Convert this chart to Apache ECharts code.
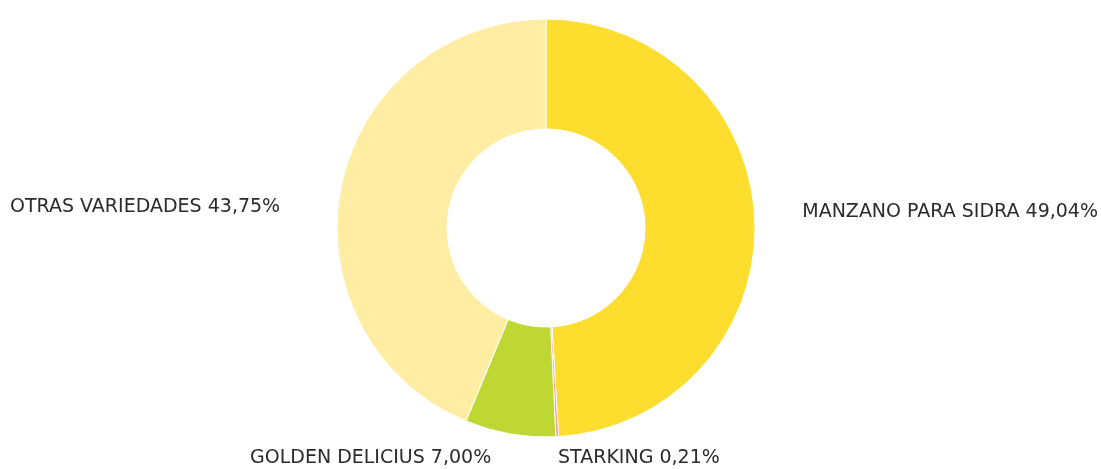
<!DOCTYPE html>
<html>
<head>
<meta charset="utf-8">
<script src="https://cdn.jsdelivr.net/npm/echarts@6/dist/echarts.min.js"></script>
<style>html,body{margin:0;padding:0;background:#fff;}#c{width:1101px;height:469px;}</style>
</head>
<body>
<div id="c"></div>
<script>
const categories = ['MANZANO PARA SIDRA', 'STARKING', 'GOLDEN DELICIUS', 'OTRAS VARIEDADES'];
const values = [49.04, 0.21, 7.00, 43.75];
const colors = ['#FDDD2D', '#F29AA0', '#BED732', '#FEEDA3'];

const labelSpots = [
  { x: 1098, y: 212, align: 'right' },
  { x: 558, y: 458, align: 'left' },
  { x: 250, y: 458, align: 'left' },
  { x: 10, y: 207, align: 'left' }
];

const chart = echarts.init(document.getElementById('c'));
chart.setOption({
  animation: false,
  series: [{
    type: 'pie',
    center: [546, 228],
    radius: [99, 209],
    startAngle: 90,
    clockwise: true,
    avoidLabelOverlap: false,
    itemStyle: { borderColor: '#fff', borderWidth: 1 },
    label: {
      show: true,
      position: 'outside',
      fontFamily: 'DejaVu Sans',
      fontSize: 19,
      color: '#2b2b2b',
      formatter: p => p.name + ' ' + p.value.toFixed(2).replace('.', ',') + '%'
    },
    labelLine: { show: false },
    labelLayout: function (params) {
      const s = labelSpots[params.dataIndex];
      return { x: s.x, y: s.y, align: s.align, verticalAlign: 'middle' };
    },
    data: categories.map((c, i) => ({ name: c, value: values[i], itemStyle: { color: colors[i] } }))
  }]
});
</script>
</body>
</html>
